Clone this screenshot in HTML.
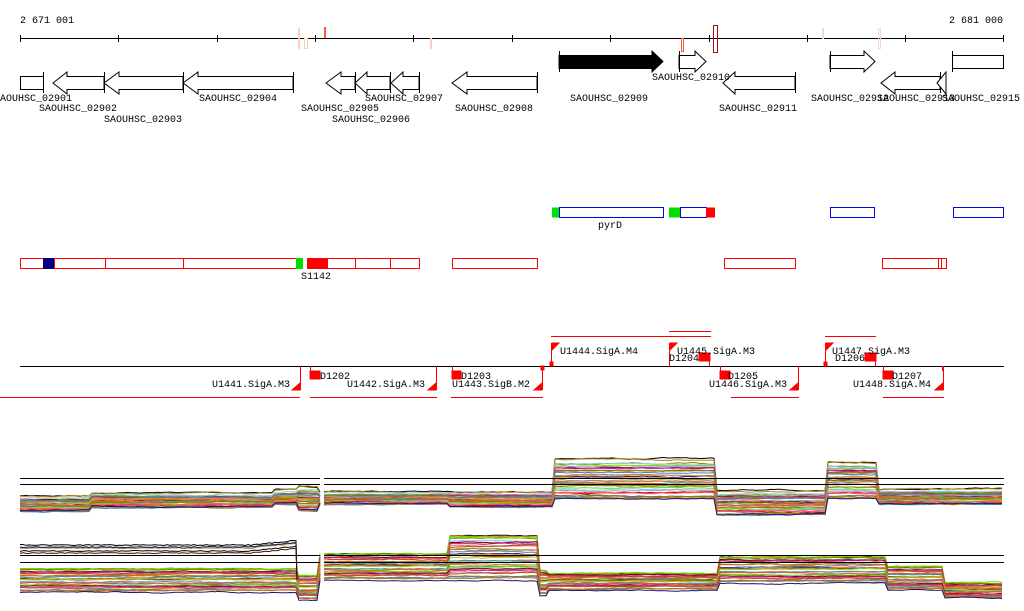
<!DOCTYPE html>
<html><head><meta charset="utf-8"><style>
body{margin:0;background:#fff;width:1024px;height:611px;overflow:hidden}
svg{display:block}
text{font-family:"Liberation Mono","DejaVu Sans Mono",monospace;font-size:10px;fill:#000}
</style></head><body>
<svg id="s" width="1024" height="611" viewBox="0 0 1024 611" xmlns="http://www.w3.org/2000/svg" shape-rendering="crispEdges">
<!-- axis -->
<text x="20" y="23">2 671 001</text>
<text x="1003" y="23" text-anchor="end">2 681 000</text>
<line x1="20" y1="38.5" x2="1004" y2="38.5" stroke="#000"/>
<g stroke="#000">
<line x1="20.5" y1="35" x2="20.5" y2="42"/><line x1="118.5" y1="35" x2="118.5" y2="42"/><line x1="217.5" y1="35" x2="217.5" y2="42"/><line x1="315.5" y1="35" x2="315.5" y2="42"/><line x1="413.5" y1="35" x2="413.5" y2="42"/><line x1="512.5" y1="35" x2="512.5" y2="42"/><line x1="610.5" y1="35" x2="610.5" y2="42"/><line x1="709.5" y1="35" x2="709.5" y2="42"/><line x1="807.5" y1="35" x2="807.5" y2="42"/><line x1="905.5" y1="35" x2="905.5" y2="42"/><line x1="1003.5" y1="35" x2="1003.5" y2="42"/>
</g>
<g fill="none">
<rect x="298.5" y="28.5" width="1" height="20" stroke="#f8d0c0"/>
<rect x="304.5" y="38.5" width="3" height="10" stroke="#f8d0c0"/>
<rect x="324.5" y="27.5" width="1" height="10" stroke="#f06040"/>
<rect x="430.5" y="38.5" width="1" height="10" stroke="#f8d0c0"/>
<rect x="681.5" y="38.5" width="2" height="13" stroke="#f06040"/>
<rect x="713.5" y="25.5" width="4" height="27" stroke="#a01010"/>
<rect x="822.5" y="28.5" width="1" height="10" stroke="#f8d8c8"/>
<rect x="878.5" y="28.5" width="2" height="20" stroke="#f8d8c8"/>
</g>
<!-- genes -->
<g fill="#fff" stroke="#000" shape-rendering="auto">
<rect x="20.5" y="76.5" width="23" height="13"/>
<line x1="43.5" y1="72" x2="43.5" y2="93"/>
<polygon points="53,83 67,72 67,76.5 104,76.5 104,89.5 67,89.5 67,94"/>
<polygon points="104,83 119,72 119,76.5 183,76.5 183,89.5 119,89.5 119,94"/>
<line x1="104.5" y1="72" x2="104.5" y2="93"/>
<polygon points="183,83 198,72 198,76.5 293,76.5 293,89.5 198,89.5 198,94"/>
<line x1="183.5" y1="72" x2="183.5" y2="93"/><line x1="293.5" y1="72" x2="293.5" y2="93"/>
<polygon points="326,83 341,72 341,76.5 355,76.5 355,89.5 341,89.5 341,94"/>
<line x1="355.5" y1="72" x2="355.5" y2="93"/>
<polygon points="355,83 367,72 367,76.5 390,76.5 390,89.5 367,89.5 367,94"/>
<line x1="390.5" y1="72" x2="390.5" y2="93"/>
<polygon points="391,83 403,72 403,76.5 419,76.5 419,89.5 403,89.5 403,94"/>
<line x1="419.5" y1="72" x2="419.5" y2="93"/>
<polygon points="452,83 467,72 467,76.5 537,76.5 537,89.5 467,89.5 467,94"/>
<line x1="537.5" y1="72" x2="537.5" y2="93"/>
<polygon points="559,55.5 652,55.5 652,51 663,61.5 652,72 652,68.5 559,68.5" fill="#000"/>
<line x1="559.5" y1="51" x2="559.5" y2="72"/>
<polygon points="679,55.5 695,55.5 695,51 706,61.5 695,72 695,68.5 679,68.5"/>
<line x1="679.5" y1="51" x2="679.5" y2="72"/>
<polygon points="723,83 735,72 735,76.5 795,76.5 795,89.5 735,89.5 735,94"/>
<line x1="795.5" y1="72" x2="795.5" y2="93"/>
<polygon points="830,55.5 864,55.5 864,51 875,61.5 864,72 864,68.5 830,68.5"/>
<line x1="830.5" y1="51" x2="830.5" y2="72"/>
<polygon points="881,83 895,72 895,76.5 940,76.5 940,89.5 895,89.5 895,94"/>
<line x1="940.5" y1="72" x2="940.5" y2="93"/>
<polygon points="937,83 946,72 946,94"/>
<rect x="952.5" y="55.5" width="51" height="13"/>
<line x1="952.5" y1="51" x2="952.5" y2="72"/>
</g>
<text x="0" y="101">AOUHSC_02901</text>
<text x="39" y="111">SAOUHSC_02902</text>
<text x="104" y="122">SAOUHSC_02903</text>
<text x="199" y="101">SAOUHSC_02904</text>
<text x="301" y="111">SAOUHSC_02905</text>
<text x="332" y="122">SAOUHSC_02906</text>
<text x="365" y="101">SAOUHSC_02907</text>
<text x="455" y="111">SAOUHSC_02908</text>
<text x="570" y="101">SAOUHSC_02909</text>
<text x="652" y="80">SAOUHSC_02910</text>
<text x="719" y="111">SAOUHSC_02911</text>
<text x="811" y="101">SAOUHSC_02912</text>
<text x="877" y="101">SAOUHSC_02913</text>
<text x="942" y="101">SAOUHSC_02915</text>
<!-- row 2 -->
<rect x="552" y="207.5" width="7" height="10" fill="#00e000"/>
<rect x="559.5" y="207.5" width="104" height="10" fill="none" stroke="#0000ff"/>
<rect x="669" y="207.5" width="11" height="10" fill="#00e000"/>
<rect x="680.5" y="207.5" width="26" height="10" fill="none" stroke="#0000ff"/>
<rect x="706" y="207.5" width="9" height="10" fill="#f00"/>
<rect x="830.5" y="207.5" width="44" height="10" fill="none" stroke="#0000ff"/>
<rect x="953.5" y="207.5" width="50" height="10" fill="none" stroke="#0000ff"/>
<text x="598" y="228">pyrD</text>
<!-- row 3 -->
<g fill="none" stroke="#f00">
<rect x="20.5" y="258.5" width="278" height="10"/>
<line x1="54.5" y1="258" x2="54.5" y2="269"/><line x1="105.5" y1="258" x2="105.5" y2="269"/><line x1="183.5" y1="258" x2="183.5" y2="269"/>
<rect x="307.5" y="258.5" width="112" height="10"/>
<line x1="327.5" y1="258" x2="327.5" y2="269"/><line x1="355.5" y1="258" x2="355.5" y2="269"/><line x1="390.5" y1="258" x2="390.5" y2="269"/>
<rect x="452.5" y="258.5" width="85" height="10"/>
<rect x="724.5" y="258.5" width="71" height="10"/>
<rect x="882.5" y="258.5" width="64" height="10"/>
<line x1="938.5" y1="258" x2="938.5" y2="269"/><line x1="941.5" y1="258" x2="941.5" y2="269"/>
</g>
<rect x="43" y="258" width="11" height="11" fill="#000080"/>
<rect x="296" y="258" width="7" height="11" fill="#00e000"/>
<rect x="307" y="258" width="20" height="11" fill="#f00"/>
<text x="301" y="279">S1142</text>
<!-- operon track -->
<line x1="20" y1="366.5" x2="1004" y2="366.5" stroke="#000"/>
<g stroke="#f00">
<line x1="551" y1="336.5" x2="711" y2="336.5"/><line x1="669" y1="331.5" x2="711" y2="331.5"/><line x1="825" y1="336.5" x2="876" y2="336.5"/>
<line x1="0" y1="397.5" x2="300" y2="397.5"/><line x1="310" y1="397.5" x2="437" y2="397.5"/><line x1="451" y1="397.5" x2="543" y2="397.5"/><line x1="731" y1="397.5" x2="799" y2="397.5"/><line x1="883" y1="397.5" x2="944" y2="397.5"/>
</g>
<g fill="#f00" stroke="#f00" shape-rendering="auto">
<line x1="551.5" y1="343" x2="551.5" y2="366"/><polygon points="552,343 559,343 552,350"/><rect x="550" y="362" width="3" height="4"/>
<line x1="669.5" y1="343" x2="669.5" y2="366"/><polygon points="670,343 677,343 670,350"/>
<line x1="825.5" y1="343" x2="825.5" y2="366"/><polygon points="826,343 833,343 826,350"/><rect x="824" y="362" width="3" height="4"/>
<line x1="300.5" y1="366" x2="300.5" y2="390"/><polygon points="300,383 300,390 292,390"/>
<line x1="436.5" y1="366" x2="436.5" y2="390"/><polygon points="436,383 436,390 428,390"/>
<line x1="542.5" y1="366" x2="542.5" y2="390"/><polygon points="542,383 542,390 534,390"/><rect x="541" y="366" width="3" height="4"/>
<line x1="798.5" y1="366" x2="798.5" y2="390"/><polygon points="798,383 798,390 790,390"/>
<line x1="943.5" y1="370" x2="943.5" y2="390"/><polygon points="943,383 943,390 935,390"/><rect x="942.5" y="366.5" width="1" height="4" fill="none"/>
<line x1="310.5" y1="366" x2="310.5" y2="371"/><rect x="310" y="371" width="10" height="8"/>
<line x1="452.5" y1="366" x2="452.5" y2="371"/><rect x="452" y="371" width="9" height="8"/>
<rect x="699" y="353" width="11" height="8"/><line x1="709.5" y1="361" x2="709.5" y2="366"/>
<line x1="720.5" y1="366" x2="720.5" y2="371"/><rect x="720" y="371" width="10" height="8"/>
<rect x="865" y="353" width="11" height="8"/><line x1="875.5" y1="361" x2="875.5" y2="366"/>
<line x1="883.5" y1="366" x2="883.5" y2="371"/><rect x="883" y="371" width="10" height="8"/>
</g>
<text x="560" y="354">U1444.SigA.M4</text>
<text x="677" y="354">U1445.SigA.M3</text>
<text x="669" y="361">D1204</text>
<text x="832" y="354">U1447.SigA.M3</text>
<text x="835" y="361">D1206</text>
<text x="320" y="379">D1202</text>
<text x="461" y="379">D1203</text>
<text x="728" y="379">D1205</text>
<text x="892" y="379">D1207</text>
<text x="290" y="387" text-anchor="end">U1441.SigA.M3</text>
<text x="347" y="387">U1442.SigA.M3</text>
<text x="452" y="387">U1443.SigB.M2</text>
<text x="709" y="387">U1446.SigA.M3</text>
<text x="853" y="387">U1448.SigA.M4</text>
<g id="charts" shape-rendering="auto"></g>
<g stroke="#000" id="hl"></g>
</svg>
<script>
(function(){
var NS="http://www.w3.org/2000/svg",g=document.getElementById('charts'),hl=document.getElementById('hl');
var seed=7;function r(){seed=(seed*16807)%2147483647;return seed/2147483647;}
function seg(list,x){for(var i=0;i<list.length;i++){if(x<list[i][0])return list[i];}return list[list.length-1];}
var top=[[90,497,512],[273,494,508],[297,491,505],[320,488,512],[450,493,505],[553,493,508],[715,460,500],[828,492,516],[878,463,500],[1005,490,505]];
var bot=[[297,568,592],[320,575,600],[450,553,580],[540,535,580],[548,570,595],[720,573,590],[888,556,583],[945,566,590],[1005,583,598]];
var cols=['#e8502a','#b8860b','#808000','#66dd00','#87ceeb','#b399c8','#800000','#c71585','#ff6347','#a0522d','#6b8e23','#4682b4','#d2691e','#191970','#bc8f8f','#ff8c00','#8b4513','#9acd32','#cd5c5c','#20b2aa'];
function draw(bands,N){
 for(var i=0;i<N;i++){
  var t=i/(N-1),off=(r()-0.5)*3,d='',n=0,col=i==0?'#000':cols[i%cols.length];
  var parts=[[20,320],[324,1004]];
  parts.forEach(function(p){
   d+='M';
   for(var x=p[0];x<=p[1];x+=3){
     var b=seg(bands,x);n+= (r()-0.5)*0.8;n*=0.9;
     var y=b[1]+t*(b[2]-b[1])+off+n; d+=x+','+y.toFixed(1)+' ';
   }
  });
  var pa=document.createElementNS(NS,'path');pa.setAttribute('d',d);pa.setAttribute('fill','none');pa.setAttribute('stroke',col);pa.setAttribute('stroke-width','1');g.appendChild(pa);
 }
}
draw(top,34);draw(bot,34);
// extra high lines bottom-left
seed=99;
[['#000',545],['#808000',548],['#191970',547],['#000',551],['#4a0f0f',553]].forEach(function(c){
 var d='M';for(var x=20;x<=297;x+=3){d+=x+','+(c[1]-(x>250?(x-250)*0.1:0)+(r()-0.5)).toFixed(1)+' ';}
 var pa=document.createElementNS(NS,'path');pa.setAttribute('d',d+'L297,580');pa.setAttribute('fill','none');pa.setAttribute('stroke',c[0]);g.appendChild(pa);
});
[[478],[484],[555],[562]].forEach(function(v){
 [[20,320],[324,1004]].forEach(function(p){
  var l=document.createElementNS(NS,'line');l.setAttribute('x1',p[0]);l.setAttribute('x2',p[1]);l.setAttribute('y1',v[0]+.5);l.setAttribute('y2',v[0]+.5);hl.appendChild(l);
 });
});
})();
</script>
</body></html>
